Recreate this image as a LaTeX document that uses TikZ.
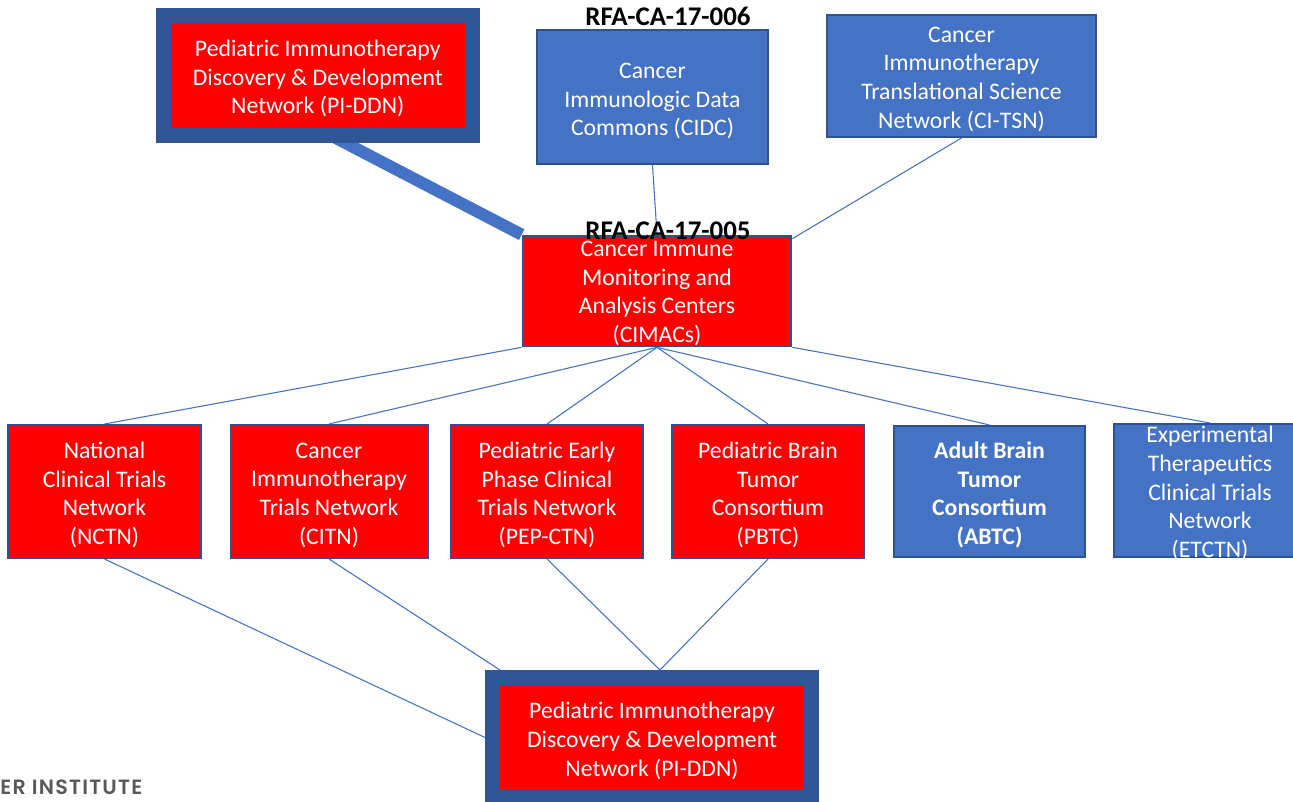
\documentclass[tikz,border=0pt]{standalone}
\usepackage{fontspec}
\setmainfont{Carlito}
\newfontfamily\instfont{Poppins}[UprightFont=* SemiBold, LetterSpace=6]
\usetikzlibrary{backgrounds}
\definecolor{bred}{HTML}{FF0000}
\definecolor{bblue}{HTML}{4472C4}
\definecolor{bdark}{HTML}{2F5597}
\definecolor{bedge}{HTML}{2F528F}
\definecolor{igray}{HTML}{595959}
\newcommand\pxu{0.75pt}
\tikzset{
  txt/.style={text=white, align=center, inner sep=0pt, font=\fontsize{17.8}{21.5}\selectfont},
  btxt/.style={txt, font=\fontsize{17.8}{21.5}\selectfont\bfseries},
  redbox/.style={rectangle, fill=bred, draw=bedge, line width=1.5pt, inner sep=0pt},
  bluebox/.style={rectangle, fill=bblue, draw=bedge, line width=1.5pt, inner sep=0pt},
  framebox/.style={rectangle, fill=bred, draw=bdark, line width=11.25pt, inner sep=0pt},
  conn/.style={draw=bblue, line width=0.8pt},
  thickconn/.style={draw=bblue, line width=9pt},
  rfa/.style={text=black, inner sep=0pt, font=\fontsize{20.2}{22}\selectfont\bfseries},
  inst/.style={text=igray, inner sep=0pt, anchor=base west, font=\fontsize{15.5}{18}\instfont}
}
\begin{document}
\begin{tikzpicture}[x=0.75pt, y=-0.75pt]
\clip (0,0) rectangle (1293,802);

% top row
\node[framebox, minimum width=309.5*\pxu, minimum height=120*\pxu,
  label={[txt, yshift=-3*\pxu]center:{Pediatric Immunotherapy\\Discovery \& Development\\Network (PI-DDN)}}]
  (pid1) at (317.75,75.5) {};
\node[bluebox, minimum width=231*\pxu, minimum height=134*\pxu,
  label={[txt, yshift=-4*\pxu]center:{Cancer\\Immunologic Data\\Commons (CIDC)}}]
  (cidc) at (652.5,97) {};
\node[bluebox, minimum width=269*\pxu, minimum height=122*\pxu,
  label={[txt, yshift=-3*\pxu]center:{Cancer\\Immunotherapy\\Translational Science\\Network (CI-TSN)}}]
  (citsn) at (961.5,76) {};

% middle
\node[redbox, line width=2pt, minimum width=268*\pxu, minimum height=110*\pxu,
  label={[txt, yshift=-2.5*\pxu]center:{Cancer Immune\\Monitoring and\\Analysis Centers\\(CIMACs)}}]
  (cimacs) at (657,291) {};

% bottom row
\node[redbox, minimum width=193*\pxu, minimum height=133*\pxu,
  label={[txt, yshift=-3.5*\pxu]center:{National\\Clinical Trials\\Network\\(NCTN)}}]
  (nctn) at (104.5,491.5) {};
\node[redbox, minimum width=197*\pxu, minimum height=133*\pxu,
  label={[txt, yshift=-3.5*\pxu]center:{Cancer\\Immunotherapy\\Trials Network\\(CITN)}}]
  (citn) at (329,491.5) {};
\node[redbox, minimum width=192*\pxu, minimum height=133*\pxu,
  label={[txt, yshift=-3.5*\pxu]center:{Pediatric Early\\Phase Clinical\\Trials Network\\(PEP-CTN)}}]
  (pep) at (547,491.5) {};
\node[redbox, minimum width=192*\pxu, minimum height=133*\pxu,
  label={[txt, yshift=-3.5*\pxu]center:{Pediatric Brain\\Tumor\\Consortium\\(PBTC)}}]
  (pbtc) at (768,491.5) {};
\node[bluebox, minimum width=191*\pxu, minimum height=131*\pxu,
  label={[btxt, yshift=-3.5*\pxu]center:{Adult Brain\\Tumor\\Consortium\\(ABTC)}}]
  (abtc) at (989.5,491.5) {};
\node[bluebox, minimum width=192*\pxu, minimum height=133*\pxu,
  label={[txt, yshift=-3*\pxu]center:{Experimental\\Therapeutics\\Clinical Trials\\Network\\(ETCTN)}}]
  (etctn) at (1210,490.5) {};

% bottom PI-DDN
\node[framebox, minimum width=319*\pxu, minimum height=120*\pxu,
  label={[txt, yshift=-3.5*\pxu]center:{Pediatric Immunotherapy\\Discovery \& Development\\Network (PI-DDN)}}]
  (pid2) at (652,737.5) {};

% labels
\node[rfa] (rfa6) at (668,16) {RFA-CA-17-006};
\node[rfa] (rfa5) at (668,231) {RFA-CA-17-005};
\node[inst] (inst) at (0,794) {ER INSTITUTE};

% connectors
\begin{scope}[on background layer]
  \fill[white] (0,0) rectangle (1293,802);
  \coordinate (tstart) at ([xshift=18*\pxu, yshift=5*\pxu]pid1.south);
  \draw[thickconn] (tstart) -- (cimacs.north west);
  \draw[conn] (cidc.south) -- (cimacs.north);
  \draw[conn] (citsn.south) -- ([yshift=-4*\pxu]cimacs.north east);
  \draw[conn] (cimacs.south west) -- (nctn.north);
  \draw[conn] (cimacs.south) -- (citn.north);
  \draw[conn] (cimacs.south) -- (pep.north);
  \draw[conn] (cimacs.south) -- (pbtc.north);
  \draw[conn] (cimacs.south) -- (abtc.north);
  \draw[conn] (cimacs.south east) -- (etctn.north);
  \draw[conn] (nctn.south) -- (pid2.west);
  \draw[conn] (citn.south) -- ([xshift=15*\pxu]pid2.north west);
  \draw[conn] (pep.south) -- ([xshift=8*\pxu]pid2.north);
  \draw[conn] (pbtc.south) -- ([xshift=8*\pxu]pid2.north);
\end{scope}
\end{tikzpicture}
\end{document}
